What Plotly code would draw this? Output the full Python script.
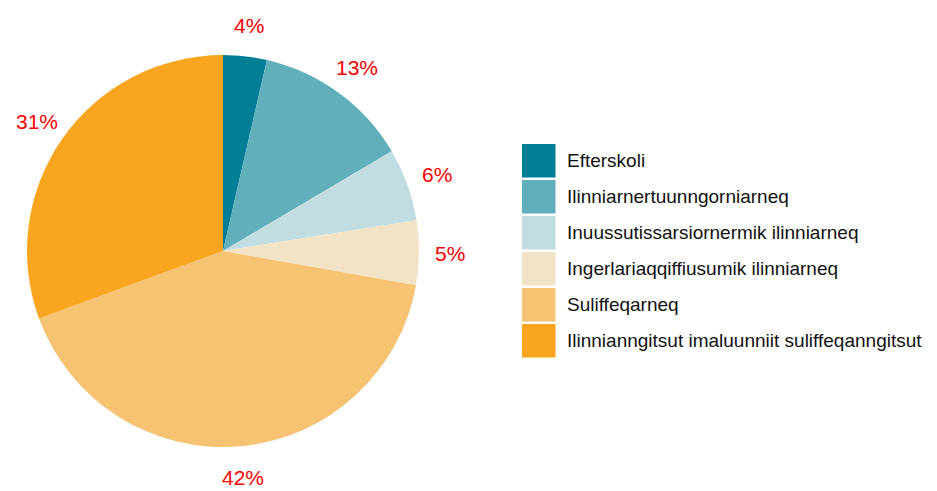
import math
import plotly.graph_objects as go

categories = [
    "Efterskoli",
    "Ilinniarnertuunngorniarneq",
    "Inuussutissarsiornermik ilinniarneq",
    "Ingerlariaqqiffiusumik ilinniarneq",
    "Suliffeqarneq",
    "Ilinnianngitsut imaluunniit suliffeqanngitsut",
]
values = [3.6, 12.9, 6.0, 5.3, 41.6, 30.6]
colors = ["#007E96", "#62AFBC", "#C1DDE2", "#F3E3C6", "#F5C372", "#F9A51F"]

W, H = 937, 491
OFF = 8  # page body margin compensation
cx, cy, R = 223 - OFF, 251 - OFF, 196

fig = go.Figure(go.Pie(
    labels=categories,
    values=values,
    sort=False,
    direction="clockwise",
    rotation=0,
    marker=dict(colors=colors, line=dict(width=0)),
    textinfo="none",
    hoverinfo="label+percent",
    showlegend=False,
    domain=dict(x=[(cx - R) / W, (cx + R) / W], y=[1 - (cy + R) / H, 1 - (cy - R) / H]),
))

annos, shapes = [], []
# percentage labels placed outside each slice, derived from the data
total = sum(values)
cum = 0.0
for v in values:
    mid = (cum + v / 2) / total * 2 * math.pi
    cum += v
    r = R * 1.158
    x = cx + r * math.sin(mid)
    y = cy - r * math.cos(mid)
    annos.append(dict(xref="paper", yref="paper", x=x / W, y=1 - y / H,
                      text=f"{round(v / total * 100)}%", showarrow=False,
                      xanchor="center", yanchor="middle",
                      font=dict(size=21, color="#FF0000", family="Liberation Sans, Arial")))

# custom legend (large square swatches)
x0, y0, size, pitch = 522 - OFF, 144 - OFF, 33.5, 36
for i, (cat, col) in enumerate(zip(categories, colors)):
    top = y0 + i * pitch
    shapes.append(dict(type="rect", xref="paper", yref="paper",
                       x0=x0 / W, x1=(x0 + size) / W,
                       y0=1 - (top + size) / H, y1=1 - top / H,
                       fillcolor=col, line=dict(width=0)))
    annos.append(dict(xref="paper", yref="paper", x=(565 - OFF) / W, y=1 - (top + size / 2) / H,
                      text=cat, showarrow=False, xanchor="left", yanchor="middle",
                      font=dict(size=19, color="#111111", family="Liberation Sans, Arial")))

fig.update_layout(
    width=W, height=H,
    margin=dict(l=0, r=0, t=0, b=0),
    paper_bgcolor="white", plot_bgcolor="white",
    shapes=shapes, annotations=annos,
    font=dict(family="Liberation Sans, Arial"),
)
fig.write_html("out.html")
